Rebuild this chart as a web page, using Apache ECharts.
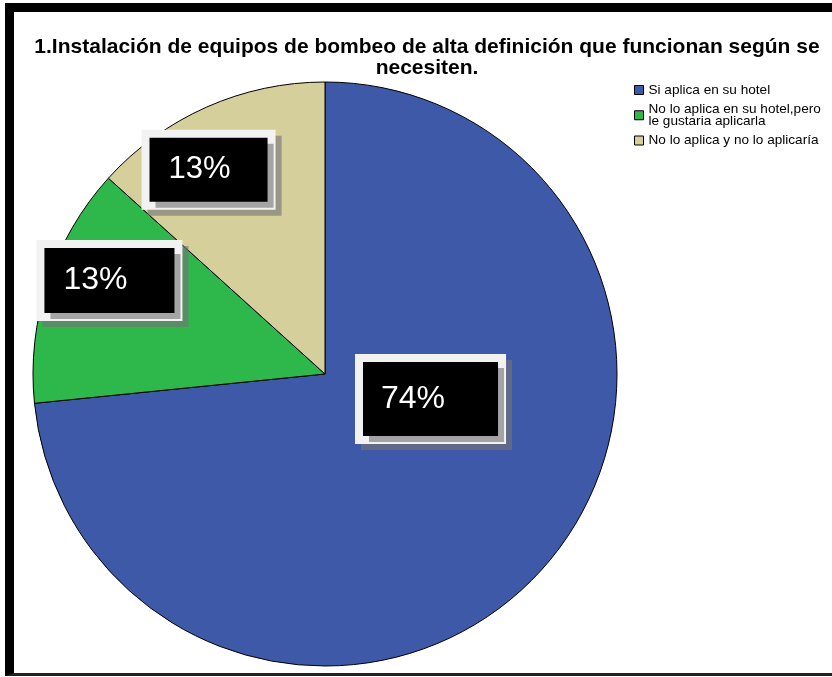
<!DOCTYPE html>
<html>
<head>
<meta charset="utf-8">
<script src="https://cdn.jsdelivr.net/npm/echarts@6/dist/echarts.min.js"></script>
<style>
html,body{margin:0;padding:0;background:#fff;}
#frame{position:absolute;left:5px;top:3px;width:900px;height:673px;border-top:9px solid #000;border-left:9px solid #000;border-bottom:3px solid #222;box-sizing:border-box;}
#chart{position:absolute;left:0;top:0;width:832px;height:677px;}
</style>
</head>
<body>
<div id="frame"></div>
<div id="chart"></div>
<script>
const titleText = '1.Instalación de equipos de bombeo de alta definición que funcionan según se\nnecesiten.';
const categories = ['Si aplica en su hotel', 'No lo aplica en su hotel,pero\nle gustaria aplicarla', 'No lo aplica y no lo aplicaría'];
const values = [73.4, 13.3, 13.3];
const pctLabels = ['74%', '13%', '13%'];
const colors = ['#3F59A9', '#2EB74B', '#D4CF9B'];

// label box styling (not data)
const labelStyles = [
  { fontSize: 32, padding: [13, 53, 29, 18], offset: [-5, -75] },
  { fontSize: 32, padding: [13, 47, 20, 19], offset: [-74, -47] },
  { fontSize: 31, padding: [13, 37, 20, 19], offset: [-56, -68] }
];

const FONT = '"Liberation Sans", Arial, sans-serif';

const chart = echarts.init(document.getElementById('chart'), null, { renderer: 'canvas' });
chart.setOption({
  backgroundColor: 'transparent',
  animation: false,
  title: {
    text: titleText,
    left: 422,
    top: 32,
    textAlign: 'center',
    textStyle: { fontFamily: FONT, fontWeight: 'bold', fontSize: 21, lineHeight: 21, color: '#000' }
  },
  legend: {
    orient: 'vertical',
    left: 634,
    top: 83,
    padding: 0,
    itemWidth: 9,
    itemHeight: 9,
    itemGap: 5,
    icon: 'rect',
    selectedMode: false,
    itemStyle: { borderColor: '#000', borderWidth: 1 },
    textStyle: { fontFamily: FONT, fontSize: 13.6, lineHeight: 12.5, color: '#000' },
    data: categories
  },
  series: [{
    type: 'pie',
    center: [325, 374],
    radius: 292,
    startAngle: 90,
    clockwise: true,
    avoidLabelOverlap: false,
    emphasis: { disabled: true },
    labelLine: { show: false },
    itemStyle: { borderColor: '#000', borderWidth: 1 },
    data: categories.map((name, i) => ({
      name: name,
      value: values[i],
      itemStyle: { color: colors[i] },
      label: {
        show: true,
        position: 'inside',
        formatter: pctLabels[i],
        color: '#fff',
        fontFamily: FONT,
        fontSize: labelStyles[i].fontSize,
        lineHeight: labelStyles[i].fontSize,
        backgroundColor: '#000',
        borderColor: '#F2F2F2',
        borderWidth: 8,
        padding: labelStyles[i].padding,
        offset: labelStyles[i].offset,
        shadowColor: 'rgba(116,116,116,0.62)',
        shadowOffsetX: 6,
        shadowOffsetY: 6,
        shadowBlur: 0
      }
    }))
  }]
});
</script>
</body>
</html>
